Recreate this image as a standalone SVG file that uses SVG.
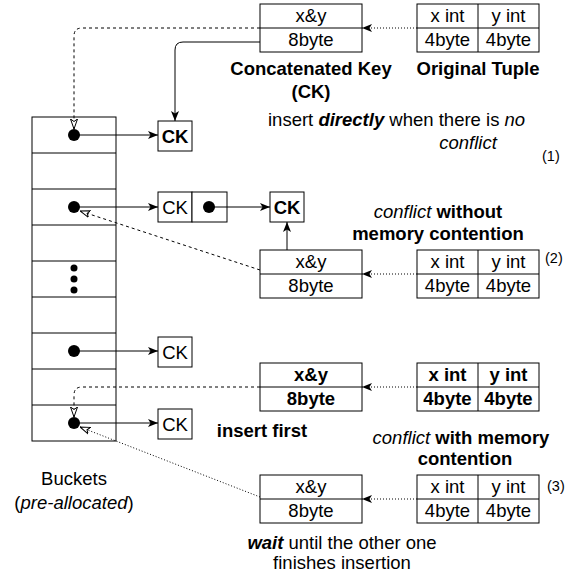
<svg xmlns="http://www.w3.org/2000/svg" width="575" height="574" viewBox="0 0 575 574">
<style>
text{font-family:"Liberation Sans",Arial,Helvetica,sans-serif;font-size:18.5px;fill:#000}
.c{text-anchor:middle}
.b{font-weight:bold}
.i{font-style:italic}
.sm{font-size:14.5px}
.box{fill:#fff;stroke:#000;stroke-width:1}
.ln{fill:none;stroke:#000;stroke-width:1}
.dash{fill:none;stroke:#000;stroke-width:1;stroke-dasharray:3 3}
.dot{fill:none;stroke:#000;stroke-width:1;stroke-dasharray:1 2}
</style>
<defs>
<marker id="arr" viewBox="0 0 10 10" refX="10" refY="5" markerWidth="10" markerHeight="10" markerUnits="userSpaceOnUse" orient="auto">
<path d="M0,1 L10,5 L0,9 L2.5,5 Z" fill="#000"/>
</marker>
<marker id="open" viewBox="0 0 10 10" refX="10" refY="5" markerWidth="10" markerHeight="10" markerUnits="userSpaceOnUse" orient="auto">
<path d="M0,1.5 L10,5 L0,8.5 L2.5,5 Z" fill="#fff" stroke="#000" stroke-width="1"/>
</marker>
</defs>

<g id="buckets">
<rect class="box" x="32" y="117" width="84" height="324"/>
<path class="ln" d="M32,153H116M32,189H116M32,225H116M32,261H116M32,297H116M32,333H116M32,369H116M32,405H116"/>
<circle cx="74" cy="268" r="3.5"/>
<circle cx="74" cy="279" r="3.5"/>
<circle cx="74" cy="290" r="3.5"/>
<text class="c" x="74" y="485">Buckets</text>
<text class="c" x="74" y="509">(<tspan class="i">pre-allocated</tspan>)</text>
</g>

<g id="ck-key-1">
<rect class="box" x="260" y="4" width="102" height="48"/>
<path class="ln" d="M260,28H362"/>
<text class="c" x="311" y="22">x&amp;y</text>
<text class="c" x="311" y="46">8byte</text>
<text class="c b" x="311" y="75">Concatenated Key</text>
<text class="c b" x="311" y="98">(CK)</text>
</g>
<g id="tuple-1">
<rect class="box" x="417" y="4" width="122" height="48"/>
<path class="ln" d="M417,28H539M478,4V52"/>
<text class="c" x="447.5" y="22">x int</text>
<text class="c" x="508.5" y="22">y int</text>
<text class="c" x="447.5" y="46">4byte</text>
<text class="c" x="508.5" y="46">4byte</text>
<text class="c b" x="478" y="75">Original Tuple</text>
</g>
<g id="label-1">
<text x="268" y="126">insert <tspan class="b i">directly</tspan> when there is <tspan class="i">no</tspan></text>
<text class="c i" x="468" y="149">conflict</text>
<text class="sm" x="542" y="161">(1)</text>
</g>

<g id="dots">
<circle cx="74" cy="135" r="6"/>
<circle cx="74" cy="207" r="6"/>
<circle cx="74" cy="351" r="6"/>
<circle cx="74" cy="423" r="6"/>
</g>

<g id="ck-row1">
<rect class="box" x="158" y="121" width="34" height="30"/>
<text class="c b" x="175" y="143">CK</text>
</g>
<g id="ck-row3">
<rect class="box" x="158" y="192" width="34" height="30"/>
<text class="c" x="175" y="214">CK</text>
<rect class="box" x="192" y="192" width="35" height="30"/>
<circle cx="209" cy="207" r="6"/>
</g>
<g id="ck-row3-new">
<rect class="box" x="270" y="192" width="34" height="30"/>
<text class="c b" x="287" y="214">CK</text>
</g>
<g id="ck-row7">
<rect class="box" x="158" y="337" width="34" height="30"/>
<text class="c" x="175" y="359">CK</text>
</g>
<g id="ck-row9">
<rect class="box" x="158" y="409" width="34" height="30"/>
<text class="c" x="175" y="431">CK</text>
</g>

<g id="ck-key-2">
<rect class="box" x="260" y="250" width="102" height="48"/>
<path class="ln" d="M260,274H362"/>
<text class="c" x="311" y="268">x&amp;y</text>
<text class="c" x="311" y="292">8byte</text>
</g>
<g id="tuple-2">
<rect class="box" x="417" y="250" width="122" height="48"/>
<path class="ln" d="M417,274H539M478,250V298"/>
<text class="c" x="447.5" y="268">x int</text>
<text class="c" x="508.5" y="268">y int</text>
<text class="c" x="447.5" y="292">4byte</text>
<text class="c" x="508.5" y="292">4byte</text>
</g>
<g id="label-2">
<text class="c" x="438" y="218"><tspan class="i">conflict</tspan> <tspan class="b">without</tspan></text>
<text class="c b" x="438" y="240">memory contention</text>
<text class="sm" x="545" y="263">(2)</text>
</g>

<g id="ck-key-3">
<rect class="box" x="260" y="363" width="102" height="48"/>
<path class="ln" d="M260,387H362"/>
<text class="c b" x="311" y="381">x&amp;y</text>
<text class="c b" x="311" y="405">8byte</text>
<text class="c b" x="262" y="437">insert first</text>
</g>
<g id="tuple-3">
<rect class="box" x="417" y="363" width="122" height="48"/>
<path class="ln" d="M417,387H539M478,363V411"/>
<text class="c b" x="447.5" y="381">x int</text>
<text class="c b" x="508.5" y="381">y int</text>
<text class="c b" x="447.5" y="405">4byte</text>
<text class="c b" x="508.5" y="405">4byte</text>
</g>
<g id="label-3">
<text class="c" x="461" y="444"><tspan class="i">conflict</tspan> <tspan class="b">with memory</tspan></text>
<text class="c b" x="465" y="465">contention</text>
<text class="sm" x="547" y="491">(3)</text>
</g>

<g id="ck-key-4">
<rect class="box" x="260" y="475" width="102" height="48"/>
<path class="ln" d="M260,499H362"/>
<text class="c" x="311" y="493">x&amp;y</text>
<text class="c" x="311" y="517">8byte</text>
</g>
<g id="tuple-4">
<rect class="box" x="417" y="475" width="122" height="48"/>
<path class="ln" d="M417,499H539M478,475V523"/>
<text class="c" x="447.5" y="493">x int</text>
<text class="c" x="508.5" y="493">y int</text>
<text class="c" x="447.5" y="517">4byte</text>
<text class="c" x="508.5" y="517">4byte</text>
</g>
<g id="label-4">
<text class="c" x="342" y="549"><tspan class="b i">wait</tspan> until the other one</text>
<text class="c" x="342" y="569">finishes insertion</text>
</g>

<g id="connectors">
<path class="dot" d="M417,28H362" marker-end="url(#arr)"/>
<path class="dot" d="M417,274H362" marker-end="url(#arr)"/>
<path class="dot" d="M417,387H362" marker-end="url(#arr)"/>
<path class="dot" d="M417,499H362" marker-end="url(#arr)"/>
<path class="dash" d="M260,28H82Q74,28 74,36V129" marker-end="url(#open)"/>
<path class="ln" d="M260,42H183Q175,42 175,50V121" marker-end="url(#arr)"/>
<path class="ln" d="M74,135H158" marker-end="url(#arr)"/>
<path class="ln" d="M74,207H158" marker-end="url(#arr)"/>
<path class="ln" d="M209,207H270" marker-end="url(#arr)"/>
<path class="ln" d="M74,351H158" marker-end="url(#arr)"/>
<path class="ln" d="M74,423H158" marker-end="url(#arr)"/>
<path class="ln" d="M287,250V222" marker-end="url(#arr)"/>
<path class="dash" d="M260,270L80,211" marker-end="url(#open)"/>
<path class="dash" d="M260,387H82Q74,387 74,395V417" marker-end="url(#open)"/>
<path class="dot" d="M260,497L80,427" marker-end="url(#open)"/>
</g>
</svg>
